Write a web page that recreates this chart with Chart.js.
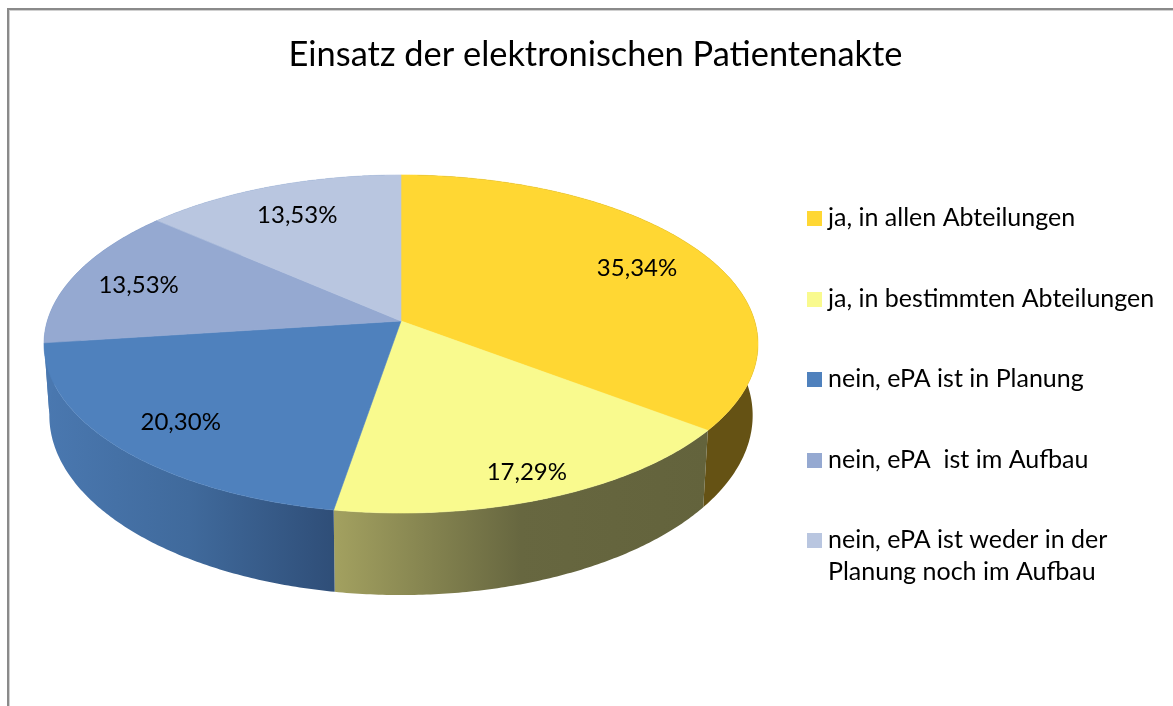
<!DOCTYPE html>
<html>
<head>
<meta charset="utf-8">
<script src="https://cdn.jsdelivr.net/npm/chart.js@4"></script>
<style>
html,body{margin:0;padding:0;background:#fff;overflow:hidden;width:1173px;height:706px}
#frame{position:absolute;left:7px;top:8px;width:1180px;height:720px;border:2px solid #8a8a8a;box-shadow:inset 1px 1px 0 #d0d0d0;box-sizing:border-box}
canvas{position:absolute;left:0;top:0}
</style>
</head>
<body>
<div id="frame"></div>
<canvas id="c" width="1173" height="706"></canvas>
<script>
const titleText = 'Einsatz der elektronischen Patientenakte';
const categories = ['ja, in allen Abteilungen','ja, in bestimmten Abteilungen','nein, ePA ist in Planung','nein, ePA  ist im Aufbau','nein, ePA ist weder in der Planung noch im Aufbau'];
const values = [35.34,17.29,20.30,13.53,13.53];
const topColors = ['#FFD733','#F9FA8E','#4F81BD','#95A9D1','#B9C6E0'];
const wallStops = [
  [[0,'#655214'],[1,'#655214']],
  [[0,'#A3A160'],[0.5,'#676740'],[1,'#63633C']],
  [[0,'#4A78B0'],[0.5,'#406A9C'],[1,'#2F4E78']],
  [[0,'#4A78B0'],[1,'#4A78B0']],
  [[0,'#4A78B0'],[1,'#4A78B0']]
];
const labelRadii = [0.78,0.86,0.8,0.8,0.78];
const FONT = 'Lato, Carlito, sans-serif';

// perspective of the tilted disc
const P = {cx:401, cy:321, R:353.7, K:165.9, p:0.136};
function proj(a, r){ // a = chart.js angle, r = 0..1
  const x = Math.cos(a)*r, z = Math.sin(a)*r, f = 1/(1-P.p*z);
  return {x:P.cx+P.R*x*f, y:P.cy+P.K*z*f, zf:z*f};
}
function projBottom(a){
  const t = proj(a,1);
  return {x:P.cx+(t.x-P.cx)*0.985, y:t.y+70+10.4*t.zf};
}
function anglesOf(arc){
  const out=[]; const n=Math.max(2,Math.ceil((arc.endAngle-arc.startAngle)/0.01));
  for(let i=0;i<=n;i++) out.push(arc.startAngle+(arc.endAngle-arc.startAngle)*i/n);
  return out;
}
const pie3d = {
  id:'pie3d',
  beforeDatasetsDraw(chart){
    const ctx=chart.ctx, arcs=chart.getDatasetMeta(0).data;
    // walls
    arcs.forEach((arc,i)=>{
      const as=anglesOf(arc);
      const xs=as.map(a=>proj(a,1).x);
      const x0=Math.min(...xs), x1=Math.max(...xs);
      const g=ctx.createLinearGradient(x0,0,x1,0);
      wallStops[i].forEach(s=>g.addColorStop(s[0],s[1]));
      ctx.beginPath();
      as.forEach((a,k)=>{const p=proj(a,1); k?ctx.lineTo(p.x,p.y):ctx.moveTo(p.x,p.y);});
      as.slice().reverse().forEach(a=>{const p=projBottom(a); ctx.lineTo(p.x,p.y);});
      ctx.closePath();
      ctx.fillStyle=g; ctx.fill();
    });
    // top faces
    arcs.forEach((arc,i)=>{
      ctx.beginPath();
      ctx.moveTo(P.cx,P.cy);
      anglesOf(arc).forEach(a=>{const p=proj(a,1); ctx.lineTo(p.x,p.y);});
      ctx.closePath();
      ctx.fillStyle=arc.options.backgroundColor;
      ctx.strokeStyle=arc.options.backgroundColor; ctx.lineWidth=0.6;
      ctx.fill(); ctx.stroke();
    });
    // value labels
    ctx.fillStyle='#000'; ctx.font='24px '+FONT; ctx.textAlign='center'; ctx.textBaseline='middle';
    arcs.forEach((arc,i)=>{
      const p=proj((arc.startAngle+arc.endAngle)/2,labelRadii[i]);
      ctx.fillText(values[i].toFixed(2).replace('.',',')+'%',p.x,p.y+2);
    });
    // legend
    const baselines=[226,307,387,468,548];
    ctx.font='25px '+FONT;
    ctx.textAlign='left'; ctx.textBaseline='alphabetic';
    chart.data.labels.forEach((lab,i)=>{
      ctx.fillStyle=topColors[i];
      ctx.fillRect(807,baselines[i]-15,15,15);
      ctx.fillStyle='#000';
      const lines=[]; let cur='';
      lab.split(' ').forEach(w=>{const t=cur===''&&lines.length===0?w:cur+' '+w; if(ctx.measureText(t).width>335&&cur){lines.push(cur);cur=w;}else cur=t;});
      lines.push(cur);
      lines.forEach((l,k)=>ctx.fillText(l,828,baselines[i]+k*32));
    });
    return false;
  }
};
new Chart(document.getElementById('c'),{
  type:'pie',
  data:{labels:categories,datasets:[{data:values,backgroundColor:topColors,borderWidth:0}]},
  options:{
    responsive:false,animation:false,
    layout:{padding:{left:18,top:19}},
    plugins:{
      legend:{display:false},tooltip:{enabled:false},
      title:{display:true,text:titleText,color:'#000',font:{family:FONT,size:34.4,weight:'normal'},padding:{top:15,bottom:0}}
    }
  },
  plugins:[pie3d]
});
</script>
</body>
</html>
